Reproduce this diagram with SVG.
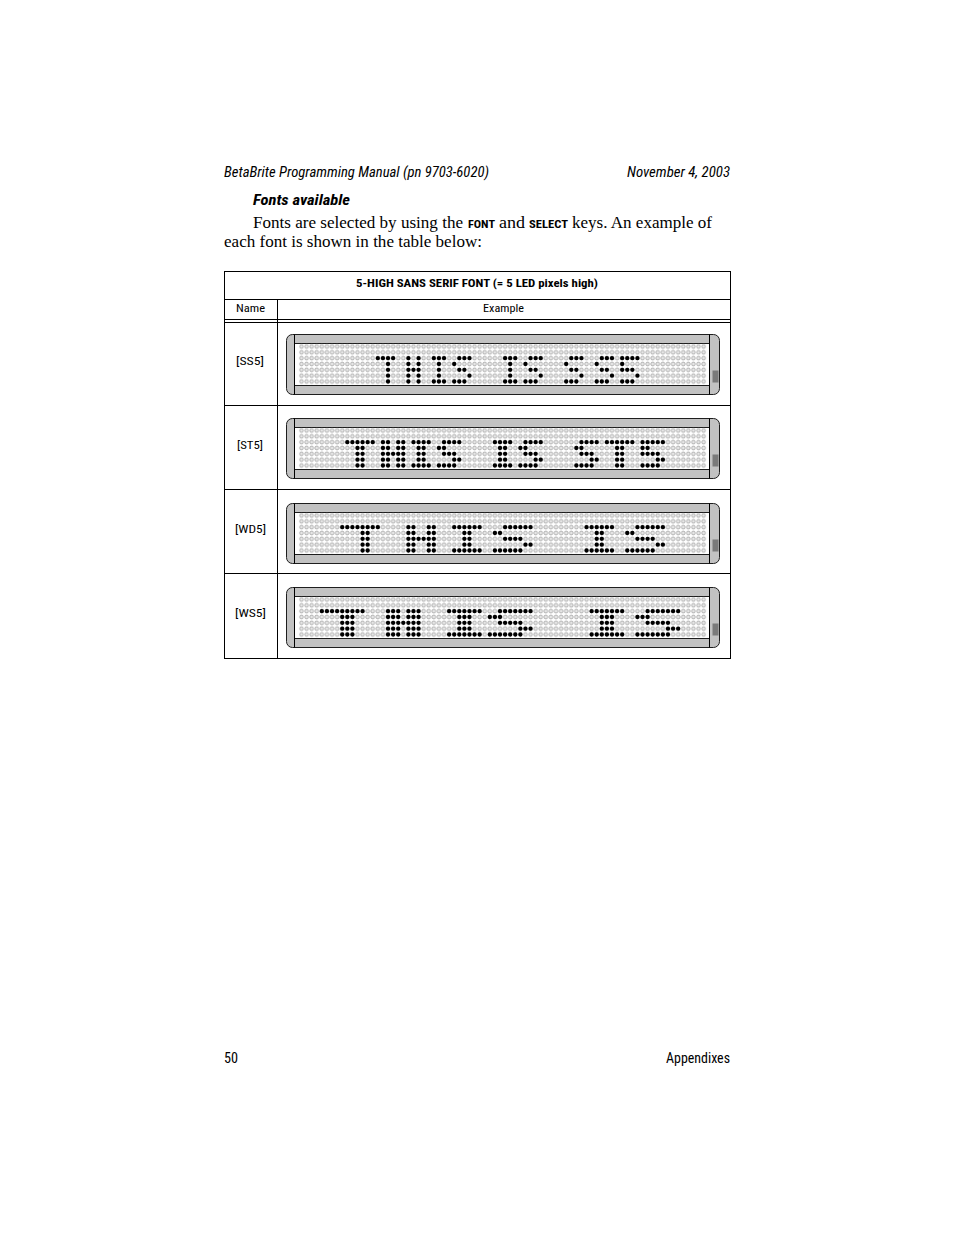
<svg xmlns="http://www.w3.org/2000/svg" width="954" height="1235" viewBox="0 0 954 1235">
<style>
.hdr{font-family:"Liberation Sans Narrow","Roboto Condensed","Liberation Sans",Arial,sans-serif;font-style:italic;font-size:14px;fill:#000}
.sub{font-family:"Liberation Sans Narrow","Roboto Condensed","Liberation Sans",Arial,sans-serif;font-style:italic;font-weight:bold;font-size:14.5px;fill:#000}
.body{font-family:"Liberation Serif","DejaVu Serif",serif;font-size:16px;fill:#000}
.key{font-family:"Liberation Sans Narrow","Roboto Condensed","Liberation Sans",Arial,sans-serif;font-weight:bold;font-size:11.5px}
.tbl{font-family:"Liberation Sans Narrow","Roboto Condensed","Liberation Sans",Arial,sans-serif;font-size:11.5px;fill:#000}
.tblb{font-family:"Liberation Sans Narrow","Roboto Condensed","Liberation Sans",Arial,sans-serif;font-size:11.5px;font-weight:bold;fill:#000}
.foot{font-family:"Liberation Sans Narrow","Roboto Condensed","Liberation Sans",Arial,sans-serif;font-size:14px;fill:#000}
.ln{stroke:#000;stroke-width:1;fill:none}
.frame{fill:#c2c2c2;stroke:#1e1e1e;stroke-width:1}
.disp{fill:#fff;stroke:#1e1e1e;stroke-width:1}
.led{fill:none;stroke:#000;stroke-width:4.3;stroke-linecap:round;vector-effect:non-scaling-stroke}
</style>
<defs>
<pattern id="grid" patternUnits="userSpaceOnUse" x="298.955" y="9.585" width="5.09" height="5.83">
<circle cx="2.545" cy="2.915" r="1.9" fill="#e6e6e6" stroke="#9c9c9c" stroke-width="0.7"/>
</pattern>
<g id="signbody">
<rect class="frame" x="286.5" y="0.5" width="433" height="60" rx="6" ry="6"/>
<rect class="disp" x="294.5" y="9.5" width="415" height="42"/>
<line class="ln" x1="294.5" y1="0.5" x2="294.5" y2="60.5"/>
<line class="ln" x1="709.5" y1="0.5" x2="709.5" y2="60.5"/>
<rect x="298.955" y="9.585" width="407.2" height="40.81" fill="url(#grid)"/>
<rect x="712.5" y="36.5" width="6" height="12" fill="#7a7a7a"/>
</g>
<path id="ssT" class="led" d="M0 0h0M1 0h0M2 0h0M3 0h0M2 1h0M2 2h0M2 3h0M2 4h0"/>
<path id="ssH" class="led" d="M0 0h0M2 0h0M0 1h0M2 1h0M0 2h0M1 2h0M2 2h0M0 3h0M2 3h0M0 4h0M2 4h0"/>
<path id="ssI" class="led" d="M0 0h0M1 0h0M2 0h0M1 1h0M1 2h0M1 3h0M0 4h0M1 4h0M2 4h0"/>
<path id="ssS" class="led" d="M1 0h0M2 0h0M3 0h0M0 1h0M1 2h0M2 2h0M3 3h0M0 4h0M1 4h0M2 4h0"/>
<path id="ss5" class="led" d="M0 0h0M1 0h0M2 0h0M3 0h0M0 1h0M0 2h0M1 2h0M2 2h0M3 3h0M0 4h0M1 4h0M2 4h0"/>
<path id="stT" class="led" d="M0 0h0M1 0h0M2 0h0M3 0h0M4 0h0M5 0h0M2 1h0M3 1h0M2 2h0M3 2h0M2 3h0M3 3h0M2 4h0M3 4h0"/>
<path id="stH" class="led" d="M0 0h0M1 0h0M3 0h0M4 0h0M0 1h0M1 1h0M3 1h0M4 1h0M0 2h0M1 2h0M2 2h0M3 2h0M4 2h0M0 3h0M1 3h0M3 3h0M4 3h0M0 4h0M1 4h0M3 4h0M4 4h0"/>
<path id="stI" class="led" d="M0 0h0M1 0h0M2 0h0M3 0h0M1 1h0M2 1h0M1 2h0M2 2h0M1 3h0M2 3h0M0 4h0M1 4h0M2 4h0M3 4h0"/>
<path id="stS" class="led" d="M1 0h0M2 0h0M3 0h0M4 0h0M0 1h0M1 1h0M1 2h0M2 2h0M3 2h0M3 3h0M4 3h0M0 4h0M1 4h0M2 4h0M3 4h0"/>
<path id="st5" class="led" d="M0 0h0M1 0h0M2 0h0M3 0h0M4 0h0M0 1h0M1 1h0M0 2h0M1 2h0M2 2h0M3 2h0M3 3h0M4 3h0M0 4h0M1 4h0M2 4h0M3 4h0"/>
<path id="wdT" class="led" d="M0 0h0M1 0h0M2 0h0M3 0h0M4 0h0M5 0h0M6 0h0M7 0h0M4 1h0M5 1h0M4 2h0M5 2h0M4 3h0M5 3h0M4 4h0M5 4h0"/>
<path id="wdH" class="led" d="M0 0h0M1 0h0M4 0h0M5 0h0M0 1h0M1 1h0M4 1h0M5 1h0M0 2h0M1 2h0M2 2h0M3 2h0M4 2h0M5 2h0M0 3h0M1 3h0M4 3h0M5 3h0M0 4h0M1 4h0M4 4h0M5 4h0"/>
<path id="wdI" class="led" d="M0 0h0M1 0h0M2 0h0M3 0h0M4 0h0M5 0h0M2 1h0M3 1h0M2 2h0M3 2h0M2 3h0M3 3h0M0 4h0M1 4h0M2 4h0M3 4h0M4 4h0M5 4h0"/>
<path id="wdS" class="led" d="M2 0h0M3 0h0M4 0h0M5 0h0M6 0h0M7 0h0M0 1h0M1 1h0M2 2h0M3 2h0M4 2h0M5 2h0M6 3h0M7 3h0M0 4h0M1 4h0M2 4h0M3 4h0M4 4h0M5 4h0"/>
<path id="wsT" class="led" d="M0 0h0M1 0h0M2 0h0M3 0h0M4 0h0M5 0h0M6 0h0M7 0h0M8 0h0M4 1h0M5 1h0M6 1h0M4 2h0M5 2h0M6 2h0M4 3h0M5 3h0M6 3h0M4 4h0M5 4h0M6 4h0"/>
<path id="wsH" class="led" d="M0 0h0M1 0h0M2 0h0M4 0h0M5 0h0M6 0h0M0 1h0M1 1h0M2 1h0M4 1h0M5 1h0M6 1h0M0 2h0M1 2h0M2 2h0M3 2h0M4 2h0M5 2h0M6 2h0M0 3h0M1 3h0M2 3h0M4 3h0M5 3h0M6 3h0M0 4h0M1 4h0M2 4h0M4 4h0M5 4h0M6 4h0"/>
<path id="wsI" class="led" d="M0 0h0M1 0h0M2 0h0M3 0h0M4 0h0M5 0h0M6 0h0M2 1h0M3 1h0M4 1h0M2 2h0M3 2h0M4 2h0M2 3h0M3 3h0M4 3h0M0 4h0M1 4h0M2 4h0M3 4h0M4 4h0M5 4h0M6 4h0"/>
<path id="wsS" class="led" d="M2 0h0M3 0h0M4 0h0M5 0h0M6 0h0M7 0h0M8 0h0M0 1h0M1 1h0M2 1h0M2 2h0M3 2h0M4 2h0M5 2h0M6 2h0M6 3h0M7 3h0M8 3h0M0 4h0M1 4h0M2 4h0M3 4h0M4 4h0M5 4h0M6 4h0"/>
</defs>

<g id="page-header">
<text class="hdr" x="224" y="177" textLength="265" lengthAdjust="spacingAndGlyphs">BetaBrite Programming Manual (pn 9703-6020)</text>
<text class="hdr" x="627" y="177" textLength="103" lengthAdjust="spacingAndGlyphs">November 4, 2003</text>
</g>

<g id="intro">
<text class="sub" x="253" y="205" textLength="97" lengthAdjust="spacingAndGlyphs">Fonts available</text>
<text class="body" y="228"><tspan x="253" textLength="210" lengthAdjust="spacingAndGlyphs">Fonts are selected by using the</tspan> <tspan class="key" x="468" textLength="27" lengthAdjust="spacingAndGlyphs">FONT</tspan> <tspan x="499" textLength="26" lengthAdjust="spacingAndGlyphs">and</tspan> <tspan class="key" x="529" textLength="39" lengthAdjust="spacingAndGlyphs">SELECT</tspan> <tspan x="572" textLength="140" lengthAdjust="spacingAndGlyphs">keys. An example of</tspan></text>
<text class="body" x="224" y="247" textLength="258" lengthAdjust="spacingAndGlyphs">each font is shown in the table below:</text>
</g>

<g id="connectors">
<rect class="ln" x="224.5" y="271.5" width="506" height="387"/>
<line class="ln" x1="224.5" y1="299.5" x2="730.5" y2="299.5"/>
<line class="ln" x1="224.5" y1="319.5" x2="730.5" y2="319.5"/>
<line class="ln" x1="224.5" y1="322.5" x2="730.5" y2="322.5"/>
<line class="ln" x1="224.5" y1="405.5" x2="730.5" y2="405.5"/>
<line class="ln" x1="224.5" y1="489.5" x2="730.5" y2="489.5"/>
<line class="ln" x1="224.5" y1="573.5" x2="730.5" y2="573.5"/>
<line class="ln" x1="277.5" y1="299.5" x2="277.5" y2="658.5"/>
</g>

<g id="table-head">
<text class="tblb" x="356" y="287" textLength="242" lengthAdjust="spacingAndGlyphs">5-HIGH SANS SERIF FONT (= 5 LED pixels high)</text>
<text class="tbl" x="236" y="312" textLength="29" lengthAdjust="spacingAndGlyphs">Name</text>
<text class="tbl" x="483" y="312" textLength="41" lengthAdjust="spacingAndGlyphs">Example</text>
</g>

<g id="row-ss5">
<text class="tbl" x="236" y="365" textLength="28" lengthAdjust="spacingAndGlyphs">[SS5]</text>
<g id="sign-ss5" transform="translate(0,334)">
<use href="#signbody"/>
<g transform="translate(301.5,12.5) scale(5.09,5.83)">
<use href="#ssT" x="15" y="2"/><use href="#ssH" x="21" y="2"/><use href="#ssI" x="26" y="2"/><use href="#ssS" x="30" y="2"/>
<use href="#ssI" x="40" y="2"/><use href="#ssS" x="44" y="2"/>
<use href="#ssS" x="52" y="2"/><use href="#ssS" x="58" y="2"/><use href="#ss5" x="63" y="2"/>
</g>
</g>
</g>

<g id="row-st5">
<text class="tbl" x="237" y="449" textLength="26" lengthAdjust="spacingAndGlyphs">[ST5]</text>
<g id="sign-st5" transform="translate(0,418)">
<use href="#signbody"/>
<g transform="translate(301.5,12.5) scale(5.09,5.83)">
<use href="#stT" x="9" y="2"/><use href="#stH" x="16" y="2"/><use href="#stI" x="22" y="2"/><use href="#stS" x="27" y="2"/>
<use href="#stI" x="38" y="2"/><use href="#stS" x="43" y="2"/>
<use href="#stS" x="54" y="2"/><use href="#stT" x="60" y="2"/><use href="#st5" x="67" y="2"/>
</g>
</g>
</g>

<g id="row-wd5">
<text class="tbl" x="235" y="533" textLength="31" lengthAdjust="spacingAndGlyphs">[WD5]</text>
<g id="sign-wd5" transform="translate(0,503)">
<use href="#signbody"/>
<g transform="translate(301.5,12.5) scale(5.09,5.83)">
<use href="#wdT" x="8" y="2"/><use href="#wdH" x="21" y="2"/><use href="#wdI" x="30" y="2"/><use href="#wdS" x="38" y="2"/>
<use href="#wdI" x="56" y="2"/><use href="#wdS" x="64" y="2"/>
</g>
</g>
</g>

<g id="row-ws5">
<text class="tbl" x="235" y="617" textLength="31" lengthAdjust="spacingAndGlyphs">[WS5]</text>
<g id="sign-ws5" transform="translate(0,587)">
<use href="#signbody"/>
<g transform="translate(301.5,12.5) scale(5.09,5.83)">
<use href="#wsT" x="4" y="2"/><use href="#wsH" x="17" y="2"/><use href="#wsI" x="29" y="2"/><use href="#wsS" x="37" y="2"/>
<use href="#wsI" x="57" y="2"/><use href="#wsS" x="66" y="2"/>
</g>
</g>
</g>

<g id="page-footer">
<text class="foot" x="224" y="1063" textLength="14" lengthAdjust="spacingAndGlyphs">50</text>
<text class="foot" x="666" y="1063" textLength="64" lengthAdjust="spacingAndGlyphs">Appendixes</text>
</g>
</svg>
